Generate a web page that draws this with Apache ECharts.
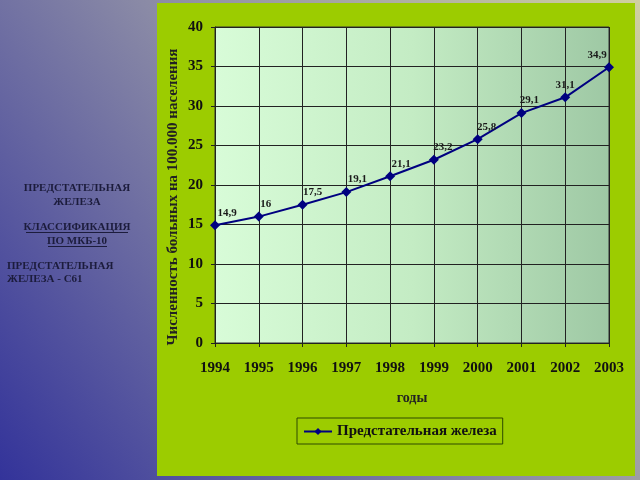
<!DOCTYPE html>
<html><head><meta charset="utf-8">
<script src="https://cdn.jsdelivr.net/npm/echarts@6/dist/echarts.min.js"></script>
<style>html,body{margin:0;padding:0;}#c{width:640px;height:480px;}</style>
</head><body><div id="c"></div>
<script>
const years = ['1994','1995','1996','1997','1998','1999','2000','2001','2002','2003'];
const values = [14.9, 16, 17.5, 19.1, 21.1, 23.2, 25.8, 29.1, 31.1, 34.9];
const valueLabels = ['14,9','16','17,5','19,1','21,1','23,2','25,8','29,1','31,1','34,9'];
const seriesName = 'Предстательная железа';
const yAxisTitle = 'Численность больных на 100.000 населения';
const xAxisTitle = 'годы';
// label placement shifts (style only)
const labelShiftX = [12, 7, 10, 11, 11, 9, 9, 8, 0, -12];

const serif = '"Liberation Serif", "DejaVu Serif", serif';
const chart = echarts.init(document.getElementById('c'));
const data = values.map((v, i) => ({
  value: v,
  label: { formatter: valueLabels[i], offset: [labelShiftX[i], 3] }
}));
const txtColor = '#1c1c3c';
chart.setOption({
  backgroundColor: {
    type: 'linear', x: 0, y: 1, x2: 1, y2: 0,
    colorStops: [{ offset: 0, color: '#33339a' }, { offset: 0.5, color: '#8a8aa6' }, { offset: 1, color: '#d0d0a0' }]
  },
  graphic: [
    { type: 'rect', shape: { x: 157, y: 3, width: 478, height: 473 }, style: { fill: '#9ccc00' }, z: -10 },
    { type: 'text', style: { text: 'ПРЕДСТАТЕЛЬНАЯ\nЖЕЛЕЗА', x: 77, y: 181, align: 'center', font: 'bold 11px ' + serif, fill: txtColor, lineHeight: 14 } },
    { type: 'text', style: { text: 'КЛАССИФИКАЦИЯ\nПО МКБ-10', x: 77, y: 220, align: 'center', font: 'bold 11px ' + serif, fill: txtColor, lineHeight: 14 } },
    { type: 'line', shape: { x1: 26, y1: 232.5, x2: 128, y2: 232.5 }, style: { stroke: txtColor, lineWidth: 1 } },
    { type: 'line', shape: { x1: 48, y1: 246.5, x2: 107, y2: 246.5 }, style: { stroke: txtColor, lineWidth: 1 } },
    { type: 'text', style: { text: 'ПРЕДСТАТЕЛЬНАЯ\nЖЕЛЕЗА - С61', x: 7, y: 260, align: 'left', font: 'bold 11px ' + serif, fill: txtColor, lineHeight: 13 } }
  ],
  grid: {
    left: 215, right: 31, top: 27, bottom: 137, show: true,
    backgroundColor: {
      type: 'linear', x: 0, y: 0, x2: 1, y2: 0,
      colorStops: [{ offset: 0, color: '#d8fcd8' }, { offset: 0.5, color: '#c4ecc4' }, { offset: 1, color: '#9ec8a4' }]
    },
    borderColor: '#333', borderWidth: 1
  },
  legend: {
    data: [seriesName], left: 297, top: 418, itemWidth: 28, itemHeight: 9,
    borderColor: '#2e4a00', borderWidth: 1, padding: [6, 6, 5, 6],
    textStyle: { fontFamily: serif, fontWeight: 'bold', fontSize: 15, color: '#111' }
  },
  xAxis: {
    type: 'category', data: years, boundaryGap: false,
    name: xAxisTitle, nameLocation: 'middle', nameGap: 48,
    nameTextStyle: { fontFamily: serif, fontWeight: 'bold', fontSize: 14, color: '#222' },
    axisLine: { lineStyle: { color: '#222' } },
    axisTick: { show: true, lineStyle: { color: '#222' }, length: 4 },
    splitLine: { show: true, lineStyle: { color: '#222', width: 1 } },
    axisLabel: { fontFamily: serif, fontWeight: 'bold', fontSize: 15, color: '#111', margin: 18 }
  },
  yAxis: {
    type: 'value', min: 0, max: 40, interval: 5,
    name: yAxisTitle, nameLocation: 'middle', nameGap: 34, nameMoveOverlap: false,
    nameTextStyle: { fontFamily: serif, fontWeight: 'bold', fontSize: 15, color: '#222', padding: [0, 24, 0, 0] },
    axisLine: { show: true, lineStyle: { color: '#222' } },
    axisTick: { show: true, lineStyle: { color: '#222' }, length: 4 },
    splitLine: { show: true, lineStyle: { color: '#222', width: 1 } },
    axisLabel: { fontFamily: serif, fontWeight: 'bold', fontSize: 15, color: '#111', margin: 12 }
  },
  series: [{
    name: seriesName, type: 'line', data: data,
    symbol: 'diamond', symbolSize: 10,
    itemStyle: { color: '#000080' },
    lineStyle: { color: '#000080', width: 2 },
    label: { show: true, position: 'top', fontFamily: serif, fontWeight: 'bold', fontSize: 11, color: '#1a1a1a' },
    animation: false
  }],
  animation: false
});
</script></body></html>
